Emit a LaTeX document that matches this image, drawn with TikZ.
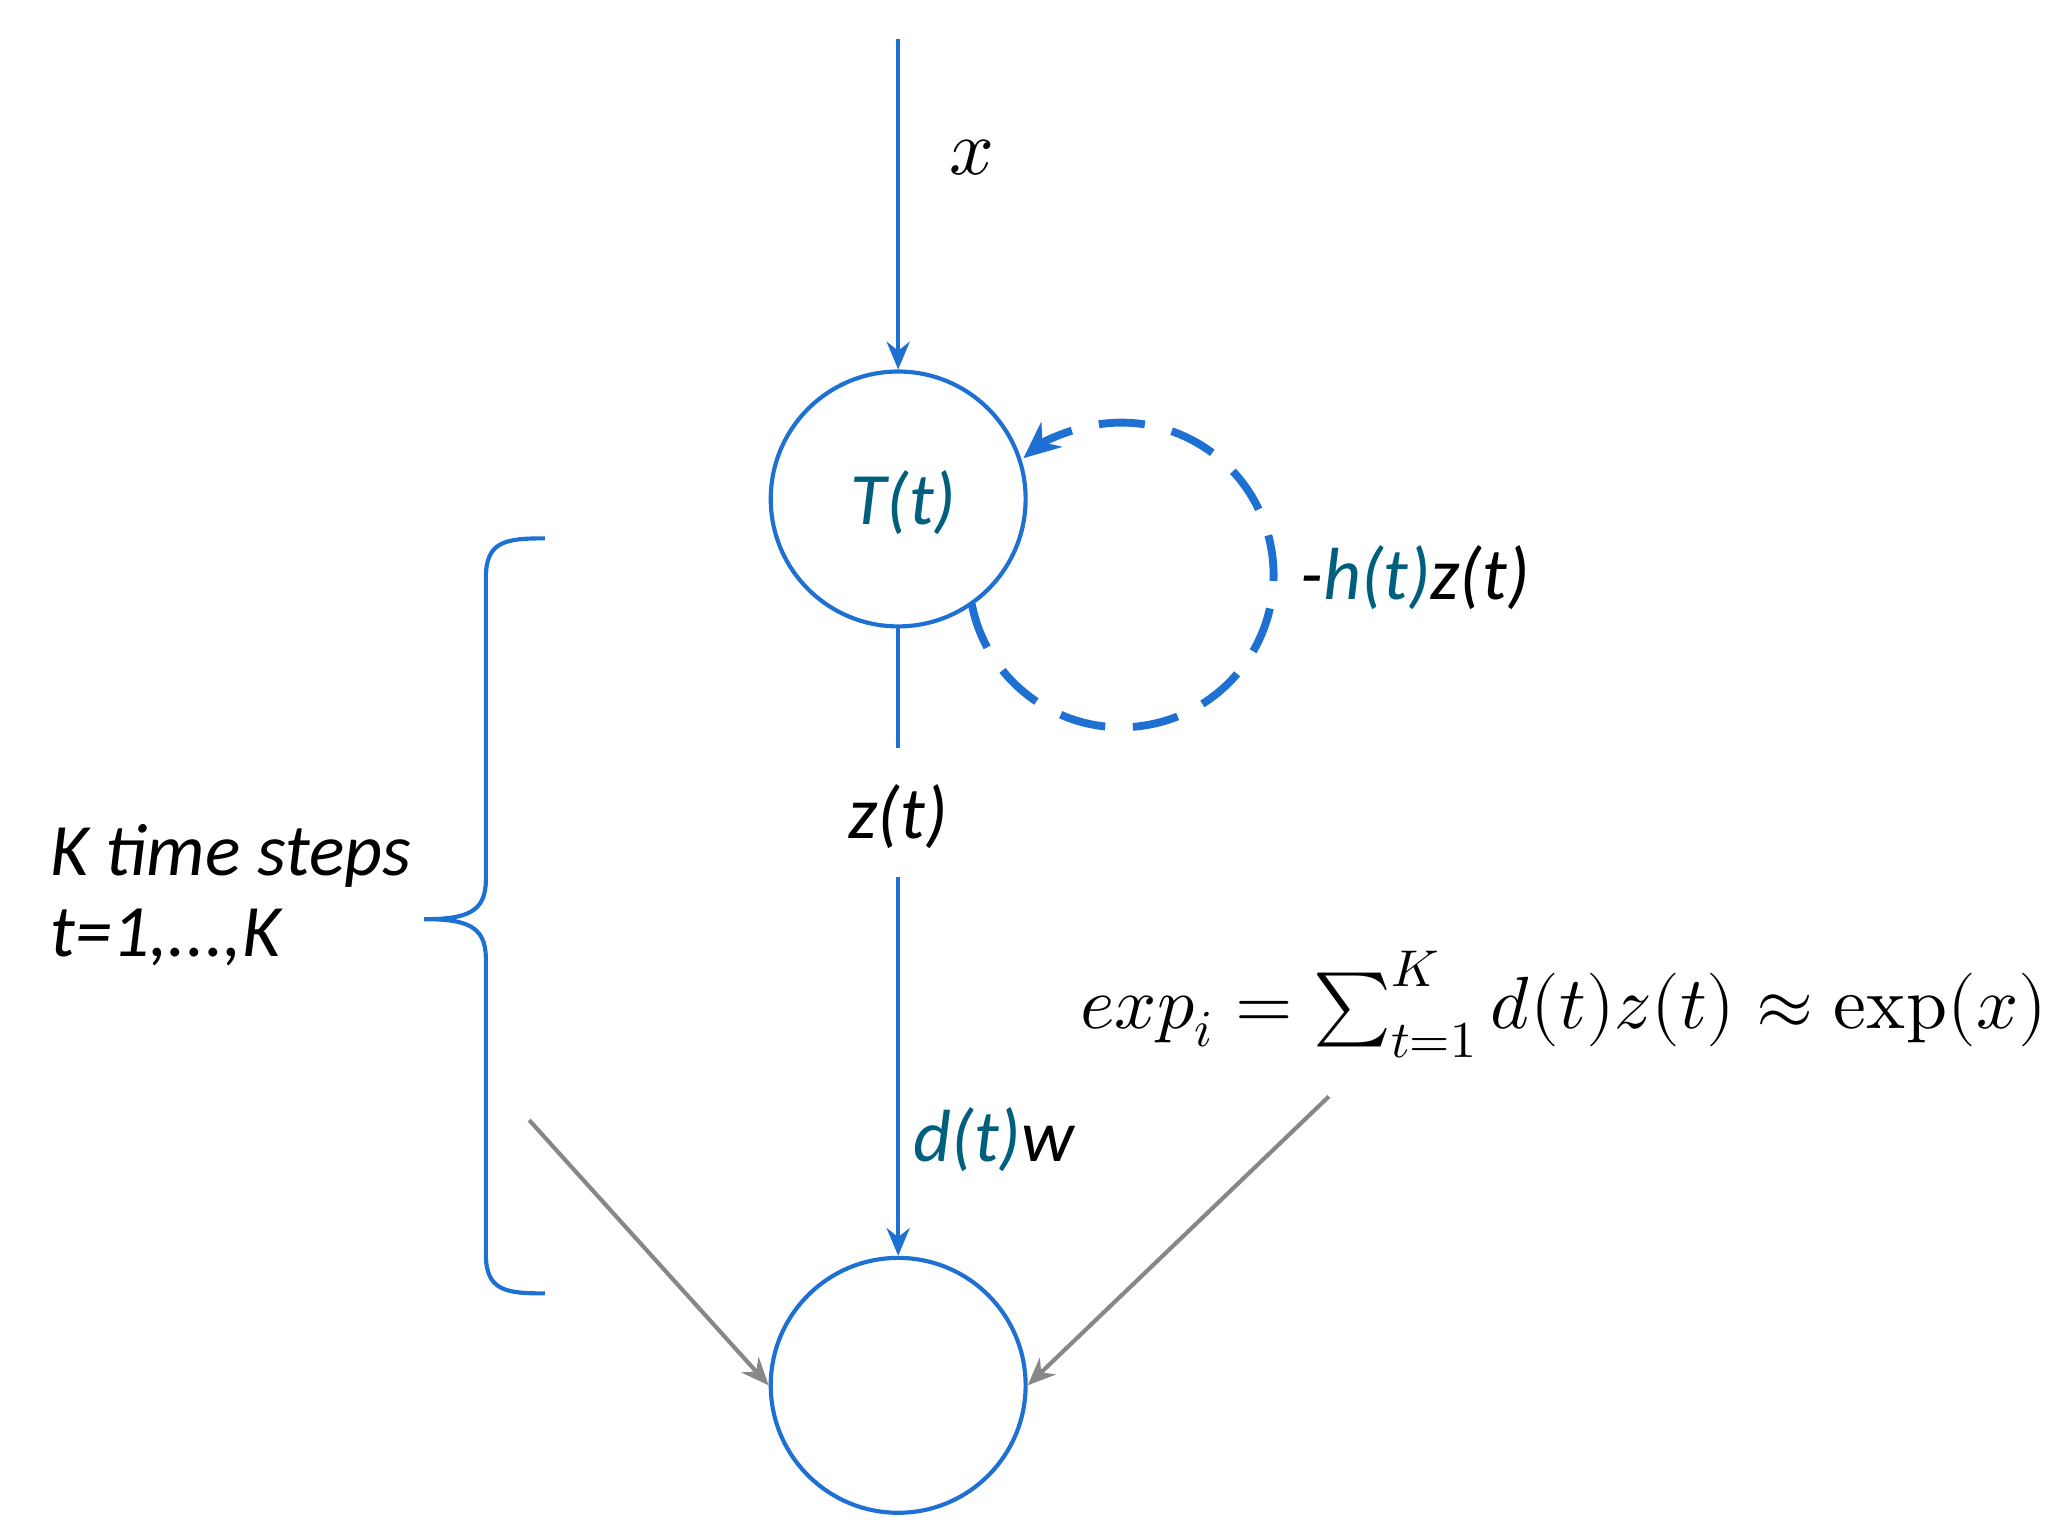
\documentclass[tikz,border=0pt]{standalone}
\usepackage{fontspec}
\usepackage{unicode-math}
\setmainfont{Carlito}
\setmathfont{Latin Modern Math}
\usetikzlibrary{arrows.meta}
\definecolor{bl}{RGB}{30,112,210}
\definecolor{tl}{RGB}{0,95,125}
\definecolor{gr}{RGB}{135,135,135}
\begin{document}
\begin{tikzpicture}[x=0.01cm,y=-0.01cm,
  circ/.style={draw=bl,line width=0.9pt,circle,minimum size=1.94cm,inner sep=0pt},
  barr/.style={draw=bl,line width=0.9pt,-{Stealth[length=6pt,width=5pt]}},
  garr/.style={draw=gr,line width=0.9pt,-{Stealth[length=6pt,width=5pt]}},
  lbl/.style={font=\itshape\fontsize{16}{18}\selectfont}]
\useasboundingbox (0,0) rectangle (1568,1168);
\node[circ] (T) at (684,380) {};
\node[lbl,text=tl] at (688,383) {T(t)};
\node[circ] (B) at (684,1055) {};
\coordinate (top) at (684,30);
\draw[barr] (top) -- (T.north);
\node[font=\fontsize{17}{19}\selectfont] (x) at (740,120) {$x$};
\node[lbl] (z) at (684,622) {z(t)};
\draw[bl,line width=0.9pt] (T.south) -- (684,570);
\draw[barr] (684,668) -- (B.north);
\node[lbl] at (757,868) {\textcolor{tl}{d(t)}w};
\draw[bl,line width=1.7pt,dash pattern=on 10pt off 6pt,-{Stealth[length=8pt,width=7pt]}]
  (740,460) arc[start angle=-191,end angle=-490,radius=116];
\node[lbl,anchor=west] at (978,440) {-\textcolor{tl}{h(t)}z(t)};
\draw[bl,line width=0.9pt] (415,410) .. controls (385,410) and (370,412) .. (370,440)
  -- (370,670) .. controls (370,695) and (355,700) .. (323,700)
  .. controls (355,700) and (370,705) .. (370,730)
  -- (370,955) .. controls (370,983) and (385,985) .. (415,985);
\node[lbl,anchor=west] at (26,652) {K time steps};
\node[lbl,anchor=west] at (26,714) {t=1,...,K};
\coordinate (g1) at (403,853);
\coordinate (g2) at (1012,835);
\draw[garr] (g1) -- (B.west);
\draw[garr] (g2) -- (B.east);
\node[font=\fontsize{16}{18}\selectfont,anchor=east,inner sep=0pt] at (1560,765) {$exp_i=\sum\nolimits_{t=1}^{K}d(t)z(t)\approx\symup{exp}(x)$};
\end{tikzpicture}
\end{document}
